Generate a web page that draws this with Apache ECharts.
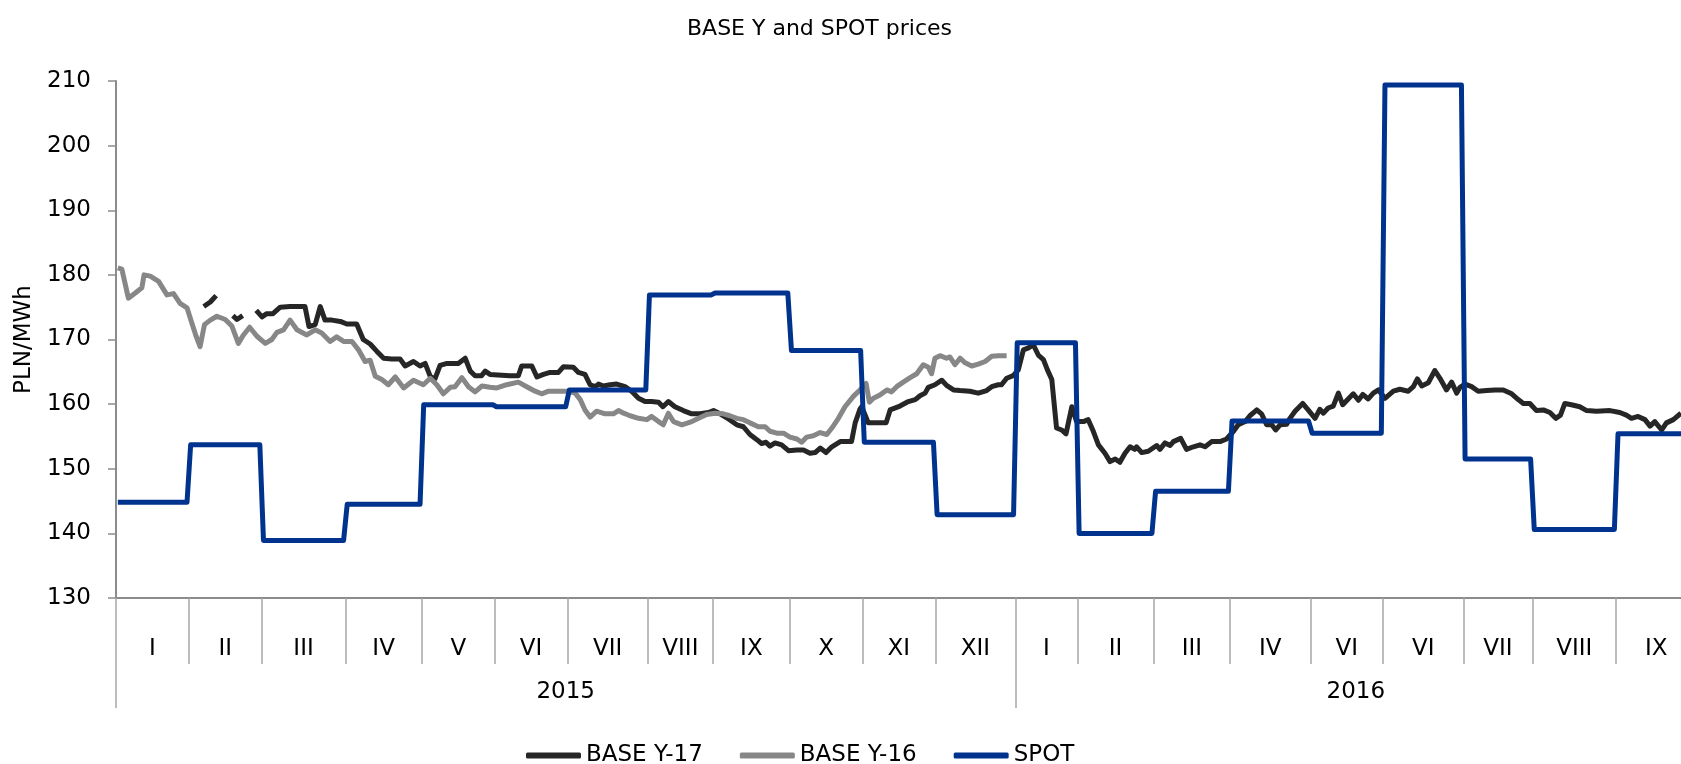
<!DOCTYPE html>
<html>
<head>
<meta charset="utf-8">
<title>BASE Y and SPOT prices</title>
<script src="https://cdn.jsdelivr.net/npm/echarts@6/dist/echarts.min.js"></script>
<style>
  html, body { margin: 0; padding: 0; background: #fff; }
  #root { width: 1681px; height: 764px; }
</style>
</head>
<body>
<div id="root"></div>
<script>
// trading days per month (x axis unit = one trading day)
const monthNames = ['I', 'II', 'III', 'IV', 'V', 'VI', 'VII', 'VIII', 'IX', 'X', 'XI', 'XII',
  'I', 'II', 'III', 'IV', 'VI', 'VI', 'VII', 'VIII', 'IX']
const monthDays = [20, 20, 23, 21, 20, 20, 22, 18, 21, 20, 20, 22,
  17, 21, 21, 22, 20, 22, 19, 23, 22]
const years = ['2015', '2016']
const yearMonths = [12, 9]
const xMax = 429.8

// SPOT monthly average, PLN/MWh
const spot = [144.8, 153.7, 138.9, 144.5, 159.9, 159.6, 162.2, 176.9, 177.2, 168.3, 154.1, 142.9,
  169.5, 140.0, 146.5, 157.4, 155.5, 209.4, 151.5, 140.6, 155.4]

// BASE Y-16, [trading day, price]
const baseY16 = [
  [0.5, 181.1], [1.6, 180.9], [3.4, 176.4], [5.3, 177.2], [7.1, 178.0], [7.7, 180.0], [9.4, 179.8],
  [11.7, 179.0], [14.0, 176.9], [15.8, 177.1], [17.6, 175.6], [19.5, 174.9], [20.8, 172.6], [22.0, 170.5],
  [23.1, 168.9], [24.3, 172.3], [25.9, 173.0], [27.7, 173.6], [30.0, 173.1], [31.8, 172.1], [33.6, 169.4],
  [35.0, 170.7], [36.7, 171.9], [38.7, 170.5], [41.0, 169.4], [42.8, 170.0], [44.2, 171.1], [46.0, 171.5],
  [47.8, 173.0], [49.7, 171.5], [52.4, 170.7], [54.7, 171.5], [56.5, 171.0], [58.8, 169.7], [60.6, 170.4],
  [62.5, 169.7], [64.8, 169.7], [66.6, 168.4], [68.4, 166.6], [69.8, 166.8], [71.2, 164.3], [73.0, 163.8],
  [74.8, 163.0], [76.7, 164.2], [79.0, 162.5], [81.7, 163.7], [84.4, 163.0], [86.3, 164.0], [88.1, 163.0],
  [89.9, 161.6], [91.8, 162.6], [93.1, 162.7], [95.0, 164.1], [96.8, 162.7], [98.6, 161.9], [100.5, 162.8],
  [102.7, 162.6], [104.6, 162.5], [107.3, 163.0], [110.5, 163.4], [112.8, 162.7], [115.1, 162.0],
  [116.9, 161.6], [118.8, 162.0], [121.5, 162.0], [124.0, 162.0], [126.1, 161.7], [127.5, 160.7],
  [128.8, 159.1], [130.2, 158.0], [132.0, 158.9], [134.3, 158.5], [136.6, 158.5], [138.0, 159.0],
  [139.4, 158.6], [141.2, 158.2], [143.5, 157.8], [145.8, 157.6], [147.1, 158.1], [149.0, 157.3],
  [150.3, 156.8], [151.7, 158.6], [153.1, 157.3], [155.4, 156.8], [157.7, 157.2], [160.0, 157.8],
  [162.2, 158.4], [164.5, 158.6], [166.8, 158.5], [168.6, 158.2], [170.5, 157.8], [172.3, 157.6],
  [174.1, 157.1], [176.4, 156.5], [178.3, 156.5], [179.6, 155.8], [181.5, 155.5], [183.3, 155.5],
  [185.1, 154.9], [187.0, 154.6], [188.3, 154.1], [189.7, 154.9], [191.5, 155.1], [193.4, 155.6],
  [195.2, 155.3], [196.6, 156.3], [198.4, 157.8], [200.2, 159.6], [202.5, 161.2], [204.3, 162.2],
  [206.0, 163.2], [206.9, 160.3], [208.0, 160.9], [209.8, 161.4], [211.7, 162.2], [213.0, 161.9],
  [214.4, 162.7], [216.2, 163.4], [218.1, 164.1], [219.9, 164.7], [221.7, 166.1], [223.1, 165.7],
  [224.0, 164.7], [224.9, 167.1], [226.3, 167.5], [228.1, 167.1], [229.0, 167.3], [230.4, 166.1],
  [231.8, 167.1], [233.2, 166.4], [235.0, 165.9], [236.8, 166.2], [238.7, 166.6], [240.5, 167.4],
  [242.3, 167.5], [244.6, 167.5]
]

// BASE Y-17, [trading day, price]; '-' = no quote (gap)
const baseY17 = [
  [24.1, 175.1], [25.9, 175.8], [27.5, 176.8], [28.5, '-'],
  [32.1, 173.7], [33.2, 173.1], [34.8, 173.7], [36.0, '-'],
  [38.5, 174.5], [40.1, 173.5], [41.4, 174.0], [43.1, 174.0], [45.1, 175.0], [47.8, 175.1], [51.9, 175.1],
  [53.0, 172.0], [54.7, 172.3], [56.1, 175.1], [57.4, 173.0], [59.3, 173.0], [61.6, 172.8], [63.4, 172.4],
  [66.1, 172.4], [67.9, 170.0], [69.8, 169.3], [71.6, 168.2], [73.5, 167.1], [75.7, 167.0], [78.0, 167.0],
  [79.4, 165.9], [81.7, 166.6], [83.5, 165.9], [84.9, 166.3], [86.3, 164.3], [87.6, 163.9], [89.0, 166.0],
  [90.9, 166.3], [94.0, 166.3], [95.9, 167.1], [97.3, 165.1], [98.6, 164.4], [100.4, 164.4], [101.4, 165.1],
  [102.7, 164.6], [108.2, 164.4], [110.5, 164.4], [111.4, 165.9], [114.2, 165.9], [115.6, 164.2],
  [117.4, 164.6], [119.2, 164.9], [121.5, 164.9], [122.9, 165.8], [125.6, 165.7], [127.0, 164.9],
  [128.8, 164.6], [130.2, 163.0], [131.6, 162.7], [132.5, 163.1], [133.9, 162.8], [135.7, 163.0],
  [137.5, 163.1], [139.8, 162.7], [141.6, 162.0], [143.5, 160.9], [145.3, 160.4], [147.1, 160.4],
  [149.0, 160.3], [150.2, 159.6], [151.7, 160.4], [153.5, 159.6], [155.8, 159.0], [158.1, 158.5],
  [160.4, 158.5], [162.7, 158.7], [164.1, 159.0], [165.9, 158.5], [168.2, 157.7], [170.5, 156.8],
  [172.3, 156.5], [174.1, 155.3], [176.0, 154.5], [177.3, 153.9], [178.5, 154.1], [179.6, 153.5],
  [181.0, 154.0], [182.8, 153.7], [184.7, 152.8], [187.0, 152.9], [188.8, 152.9], [190.6, 152.4],
  [192.0, 152.5], [193.4, 153.2], [195.0, 152.5], [196.6, 153.4], [198.9, 154.2], [202.0, 154.2],
  [203.0, 157.1], [204.3, 159.2], [204.8, 159.6], [206.6, 157.1], [211.5, 157.1], [212.6, 159.1],
  [215.3, 159.7], [217.6, 160.4], [218.1, 160.7], [219.5, 160.7], [220.8, 161.3], [222.2, 161.7],
  [223.1, 162.6], [224.9, 163.0], [226.8, 163.7], [228.1, 162.9], [230.0, 162.2], [231.8, 162.1],
  [234.5, 162.0], [236.8, 161.7], [239.1, 162.1], [240.5, 162.7], [242.3, 163.0], [243.2, 163.0],
  [244.6, 164.0], [246.4, 164.4], [247.8, 165.3], [249.2, 168.4], [250.6, 168.7], [251.9, 169.2],
  [253.3, 167.6], [254.7, 166.9], [255.8, 165.3], [257.0, 163.8], [258.3, 156.3], [259.7, 156.0],
  [260.9, 155.4], [262.5, 159.6], [263.8, 157.3], [265.7, 157.3], [267.0, 157.6], [268.4, 155.8],
  [269.8, 153.7], [271.6, 152.4], [273.0, 151.1], [274.4, 151.5], [275.7, 151.0], [277.1, 152.4],
  [278.5, 153.4], [279.8, 153.0], [280.3, 153.4], [281.7, 152.5], [283.5, 152.7], [285.8, 153.6],
  [286.7, 153.0], [288.1, 154.0], [289.5, 153.6], [290.4, 154.2], [292.4, 154.7], [294.0, 153.0],
  [295.9, 153.4], [297.7, 153.7], [299.1, 153.4], [300.9, 154.2], [303.2, 154.2], [305.0, 154.6],
  [306.9, 155.8], [308.2, 156.8], [310.1, 157.3], [311.4, 158.2], [313.3, 159.1], [314.6, 158.5],
  [316.0, 156.8], [317.4, 156.8], [318.5, 156.0], [319.7, 156.8], [321.5, 156.9], [322.4, 157.8],
  [323.8, 158.9], [325.9, 160.1], [327.4, 159.1], [329.3, 157.8], [330.6, 159.2], [331.6, 158.6],
  [332.9, 159.4], [334.3, 159.7], [335.7, 161.7], [336.9, 159.9], [338.4, 160.8], [339.8, 161.6],
  [341.2, 160.6], [342.4, 161.5], [343.9, 160.8], [345.3, 161.7], [346.7, 162.2], [348.5, 160.9],
  [350.8, 162.0], [352.6, 162.3], [354.9, 162.0], [356.3, 162.7], [357.4, 163.9], [358.6, 162.8],
  [360.4, 163.3], [362.2, 165.2], [363.6, 164.0], [365.4, 162.2], [366.8, 163.4], [368.2, 161.7],
  [369.1, 162.6], [370.5, 163.1], [372.3, 162.7], [374.1, 162.0], [376.4, 162.1], [378.7, 162.2],
  [381.0, 162.2], [383.3, 161.6], [385.1, 160.7], [386.5, 160.1], [388.3, 160.1], [390.1, 159.0],
  [392.0, 159.1], [393.8, 158.7], [395.4, 157.8], [396.7, 158.3], [397.9, 160.1], [399.7, 159.9],
  [402.0, 159.6], [403.9, 159.0], [406.6, 158.9], [410.3, 159.0], [413.0, 158.7], [414.8, 158.3],
  [416.2, 157.8], [418.0, 158.1], [419.9, 157.6], [421.3, 156.6], [422.6, 157.3], [424.5, 156.0],
  [425.8, 157.1], [427.7, 157.6], [429.8, 158.6]
]

// month / year boundaries and label positions on the day axis
const monthStarts = []
let acc = 0
monthDays.forEach((d) => { monthStarts.push(acc); acc += d })
const monthCenters = monthStarts.map((s, i) => s + monthDays[i] / 2)
const yearStarts = [0, monthStarts[yearMonths[0]]]
const yearCenters = [
  monthStarts[yearMonths[0]] / 2,
  monthStarts[yearMonths[0]] + (acc - monthStarts[yearMonths[0]]) / 2
]

// spot as a monthly step line
const spotData = []
spot.forEach((v, i) => {
  spotData.push([monthStarts[i] + 0.5, v])
  spotData.push([monthStarts[i] + monthDays[i] - 0.5, v])
})

function nearestLabel(value, positions, names) {
  let best = -1
  let bestDist = 0.01
  positions.forEach((p, i) => {
    const d = Math.abs(p - value)
    if (d < bestDist) { best = i; bestDist = d }
  })
  return best >= 0 ? names[best] : ''
}

const font = 'DejaVu Sans'
const fontSize = 23
const axisGrey = '#8c8c8c'

const chart = echarts.init(document.getElementById('root'))

chart.setOption({
  animation: false,
  textStyle: { fontFamily: font },
  title: {
    text: 'BASE Y and SPOT prices',
    left: 682,
    top: 13,
    textStyle: { fontFamily: font, fontSize: 22, fontWeight: 'normal', color: '#000' }
  },
  legend: {
    data: ['BASE Y-17', 'BASE Y-16', 'SPOT'],
    left: 521,
    top: 739,
    icon: 'roundRect',
    itemWidth: 55,
    itemHeight: 6,
    itemGap: 37,
    textStyle: { fontFamily: font, fontSize: fontSize, color: '#000' }
  },
  grid: { left: 116, right: 0, top: 81, bottom: 166 },
  xAxis: [
    {
      type: 'value',
      position: 'bottom',
      min: 0,
      max: xMax,
      axisLine: { show: true, onZero: false, lineStyle: { color: axisGrey, width: 2 } },
      axisTick: {
        show: true,
        customValues: monthStarts,
        length: 66,
        lineStyle: { color: '#a6a6a6', width: 1.5 }
      },
      axisLabel: {
        customValues: monthCenters,
        margin: 40,
        fontSize: fontSize,
        color: '#000',
        formatter: (v) => nearestLabel(v, monthCenters, monthNames)
      },
      splitLine: { show: false }
    },
    {
      type: 'value',
      position: 'bottom',
      min: 0,
      max: xMax,
      axisLine: { show: false, onZero: false },
      axisTick: {
        show: true,
        customValues: yearStarts,
        length: 110,
        lineStyle: { color: '#a6a6a6', width: 1.5 }
      },
      axisLabel: {
        customValues: yearCenters,
        margin: 83,
        fontSize: fontSize,
        color: '#000',
        formatter: (v) => nearestLabel(v, yearCenters, years)
      },
      splitLine: { show: false }
    }
  ],
  yAxis: {
    type: 'value',
    min: 130,
    max: 210,
    interval: 10,
    name: 'PLN/MWh',
    nameLocation: 'middle',
    nameRotate: 90,
    nameGap: 80,
    nameTextStyle: { fontFamily: font, fontSize: fontSize, color: '#000' },
    axisLine: { show: true, lineStyle: { color: axisGrey, width: 2 } },
    axisTick: { show: true, length: 8, lineStyle: { color: axisGrey, width: 1.5 } },
    axisLabel: { margin: 25, fontSize: fontSize, color: '#000' },
    splitLine: { show: false }
  },
  series: [
    {
      name: 'BASE Y-17',
      type: 'line',
      data: baseY17,
      showSymbol: false,
      symbol: 'none',
      connectNulls: false,
      itemStyle: { color: '#262626' },
      lineStyle: { color: '#262626', width: 5, join: 'round' }
    },
    {
      name: 'BASE Y-16',
      type: 'line',
      data: baseY16,
      showSymbol: false,
      symbol: 'none',
      itemStyle: { color: '#878787' },
      lineStyle: { color: '#878787', width: 5, join: 'round' }
    },
    {
      name: 'SPOT',
      type: 'line',
      data: spotData,
      showSymbol: false,
      symbol: 'none',
      itemStyle: { color: '#00338d' },
      lineStyle: { color: '#00338d', width: 5, join: 'round' }
    }
  ]
})
</script>
</body>
</html>
